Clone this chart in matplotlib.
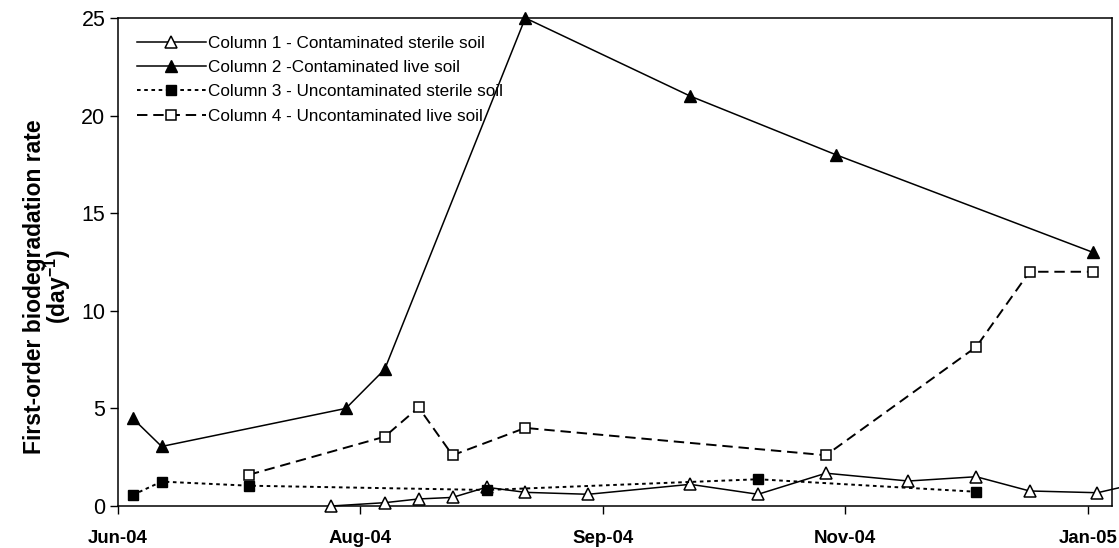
import matplotlib
matplotlib.use("Agg")
import matplotlib.pyplot as plt
import matplotlib.dates as mdates
import pandas as pd

plt.rcParams['font.family'] = ['Liberation Sans', 'DejaVu Sans']
plt.rcParams['mathtext.fontset'] = 'custom'
plt.rcParams['mathtext.bf'] = 'Liberation Sans:bold'
plt.rcParams['mathtext.rm'] = 'Liberation Sans:bold'
plt.rcParams['mathtext.default'] = 'bf'
plt.rcParams['lines.scale_dashes'] = False

# Sampling dates and first-order rates (day^-1) for each column
col1_dates = ["2004-08-03", "2004-08-14", "2004-08-21", "2004-08-28", "2004-09-04",
              "2004-09-12", "2004-09-25", "2004-10-16", "2004-10-30", "2004-11-13",
              "2004-11-30", "2004-12-14", "2004-12-25", "2005-01-08", "2005-01-18"]
col1_rate = [0.0, 0.17, 0.36, 0.44, 0.96, 0.70, 0.60, 1.11, 0.60, 1.68,
             1.28, 1.50, 0.77, 0.68, 1.25]

col2_dates = ["2004-06-23", "2004-06-29", "2004-08-06", "2004-08-14", "2004-09-12",
              "2004-10-16", "2004-11-15", "2005-01-07"]
col2_rate = [4.5, 3.05, 5.0, 7.0, 25.0, 21.0, 18.0, 13.0]

col3_dates = ["2004-06-23", "2004-06-29", "2004-07-17", "2004-09-04", "2004-10-30",
              "2004-12-14"]
col3_rate = [0.56, 1.25, 1.04, 0.82, 1.37, 0.73]

col4_dates = ["2004-07-17", "2004-08-14", "2004-08-21", "2004-08-28", "2004-09-12",
              "2004-11-13", "2004-12-14", "2004-12-25", "2005-01-07"]
col4_rate = [1.6, 3.55, 5.05, 2.6, 4.0, 2.6, 8.15, 12.0, 12.0]

labels = ["Column 1 - Contaminated sterile soil",
          "Column 2 -Contaminated live soil",
          "Column 3 - Uncontaminated sterile soil",
          "Column 4 - Uncontaminated live soil"]

axis_start = "2004-06-20"
axis_end = "2005-01-11"
tick_step_days = 50
y_ticks = [0, 5, 10, 15, 20, 25]

W, H = 1119, 548
fig = plt.figure(figsize=(W / 100, H / 100), dpi=100)
ax = fig.add_axes([118 / W, 1 - 506 / H, (1112 - 118) / W, (506 - 18) / H])

d1 = pd.to_datetime(col1_dates)
d2 = pd.to_datetime(col2_dates)
d3 = pd.to_datetime(col3_dates)
d4 = pd.to_datetime(col4_dates)

lw = 1.1
ax.plot(d1, col1_rate, color='black', lw=lw, marker='^', ms=8, mfc='white',
        mec='black', mew=1.1, label=labels[0], clip_on=False, zorder=3)
ax.plot(d2, col2_rate, color='black', lw=lw, marker='^', ms=8, mfc='black',
        mec='black', label=labels[1], clip_on=False, zorder=3)
ax.plot(d3, col3_rate, color='black', lw=1.4, ls=(0, (2.6, 2.6)), marker='s', ms=6.5,
        mfc='black', mec='black', label=labels[2], clip_on=False, zorder=3)
ax.plot(d4, col4_rate, color='black', lw=1.4, ls=(0, (7.5, 4.2)), marker='s', ms=6.5,
        mfc='white', mec='black', mew=1.1, label=labels[3], clip_on=False, zorder=3)

start = pd.Timestamp(axis_start)
ax.set_xlim(start, pd.Timestamp(axis_end))
ticks = [start + pd.Timedelta(days=tick_step_days * k) for k in range(5)]
ax.set_xticks(ticks)
ax.xaxis.set_major_formatter(mdates.DateFormatter('%b-%y'))
ax.set_ylim(0, 25)
ax.set_yticks(y_ticks)

for lab in ax.get_xticklabels():
    lab.set_fontweight('bold')
ax.tick_params(axis='x', labelsize=13.4, direction='out', length=6, width=1, pad=11)
ax.tick_params(axis='y', labelsize=15.5, direction='out', length=6, width=1, pad=3)
for s in ax.spines.values():
    s.set_linewidth(1.1)

ax.set_ylabel('First-order biodegradation rate\n(day$^{-1}$)', fontsize=16.5,
              fontweight='bold', linespacing=0.88)
ax.yaxis.set_label_coords(-0.045, 0.45)

leg = ax.legend(loc='upper left', bbox_to_anchor=(0.009, 0.985), frameon=False,
                fontsize=12.3, handlelength=4.0, handletextpad=0.15,
                labelspacing=0.55, borderaxespad=0.2)

fig.savefig('out.png', dpi=100)
